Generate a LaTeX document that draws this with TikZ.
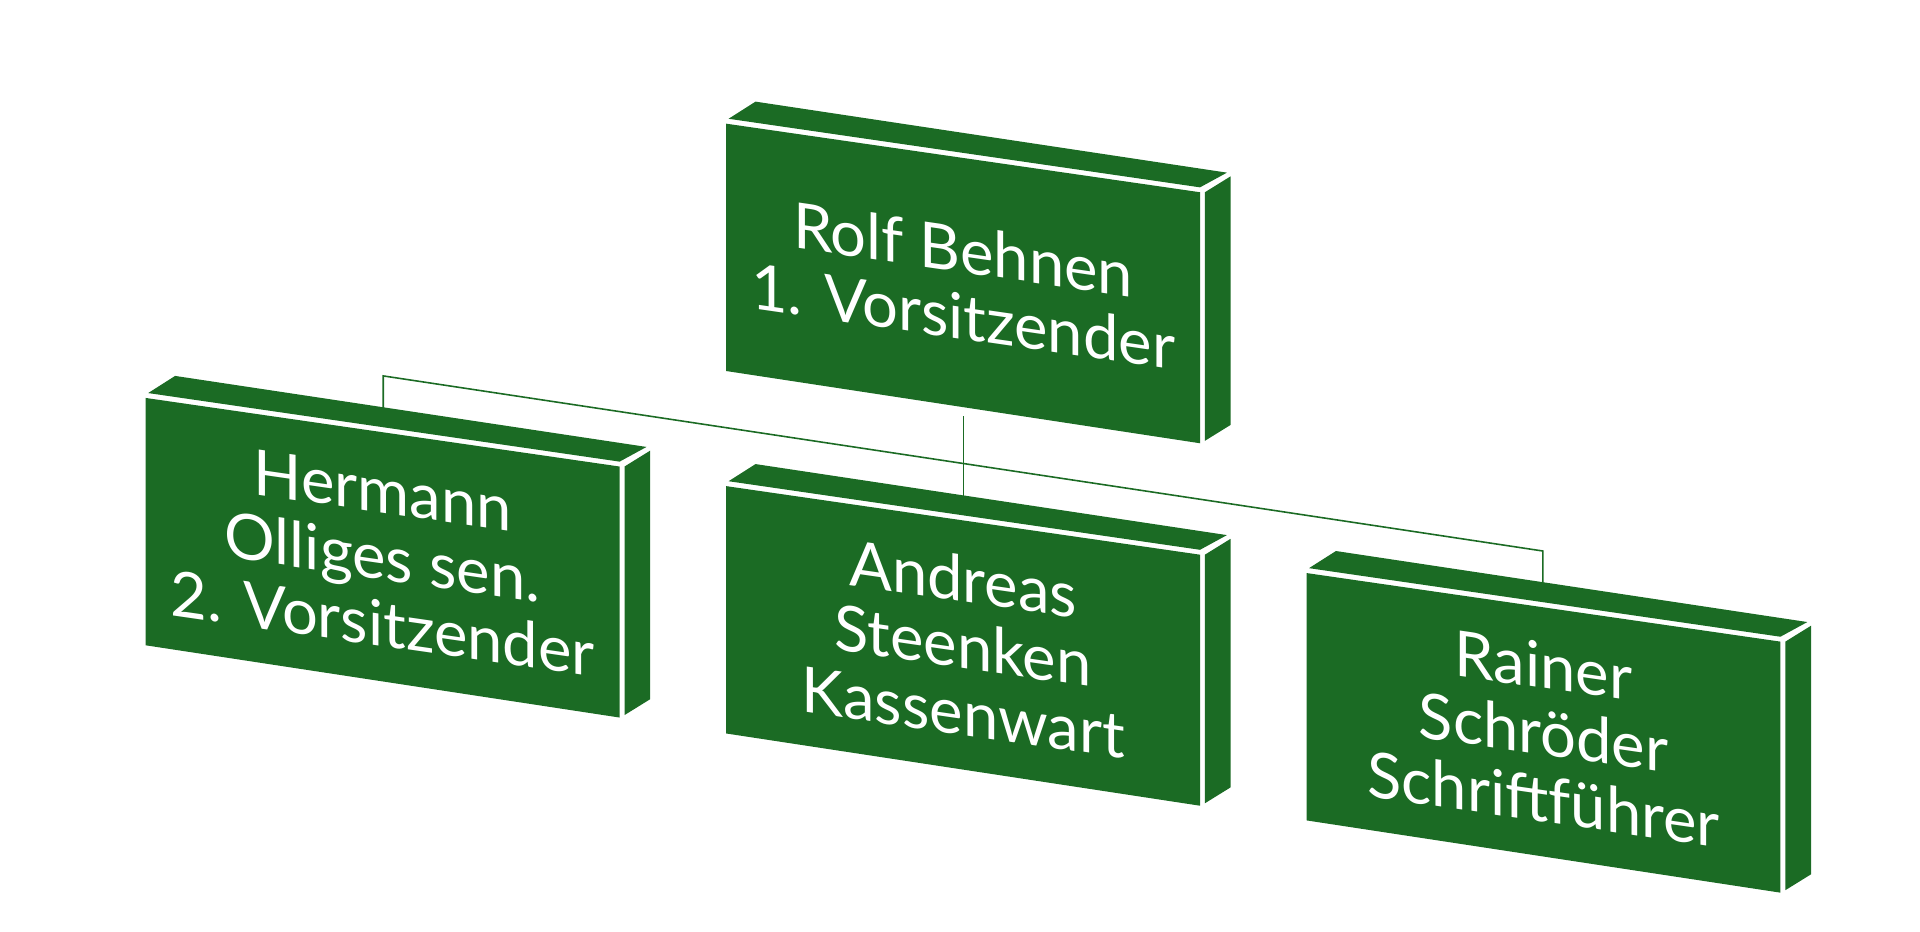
\documentclass[tikz,border=0pt]{standalone}
\usepackage{fontspec}
\setmainfont{Lato}
\definecolor{boxgreen}{HTML}{1B6B24}
\newcommand{\orgbox}[4]{%
  \begin{scope}[shift={(#2,#3)}]
    \fill[boxgreen] (0,0) -- (387,56) -- (387,261) -- (0,202) -- cycle;
    \fill[boxgreen] (391,56) -- (412,43) -- (412,246) -- (391,259) -- cycle;
    \fill[boxgreen] (2,-4) -- (24,-18) -- (409,40) -- (387,52) -- cycle;
    \node[boxtext] (#1) at (193.5,130) {#4};
  \end{scope}}
\begin{document}
\begin{tikzpicture}[x=0.012245cm,y=-0.012245cm,
  boxtext/.style={text=white,align=center,yslant=-0.145,inner sep=0pt,font=\fontsize{18}{19}\selectfont},
  conn/.style={draw=boxgreen,line width=0.45pt}]
\useasboundingbox (0,0) rectangle (1568,761);
\orgbox{rolf}{593}{101}{Rolf Behnen\\1. Vorsitzender}
\orgbox{hermann}{119}{325}{Hermann\\Olliges sen.\\2. Vorsitzender}
\orgbox{andreas}{593}{397}{Andreas\\Steenken\\Kassenwart}
\orgbox{rainer}{1067}{468}{Rainer\\Schröder\\Schriftführer}
\coordinate (r1) at (787,340);
\coordinate (a1) at (787,419);
\coordinate (h1) at (313,347);
\coordinate (h2) at (313,307);
\coordinate (s2) at (1260,450);
\coordinate (s1) at (1260,490);
\draw[conn] (r1) -- (a1);
\draw[conn] (h1) -- (h2) -- (s2) -- (s1);
\end{tikzpicture}
\end{document}
